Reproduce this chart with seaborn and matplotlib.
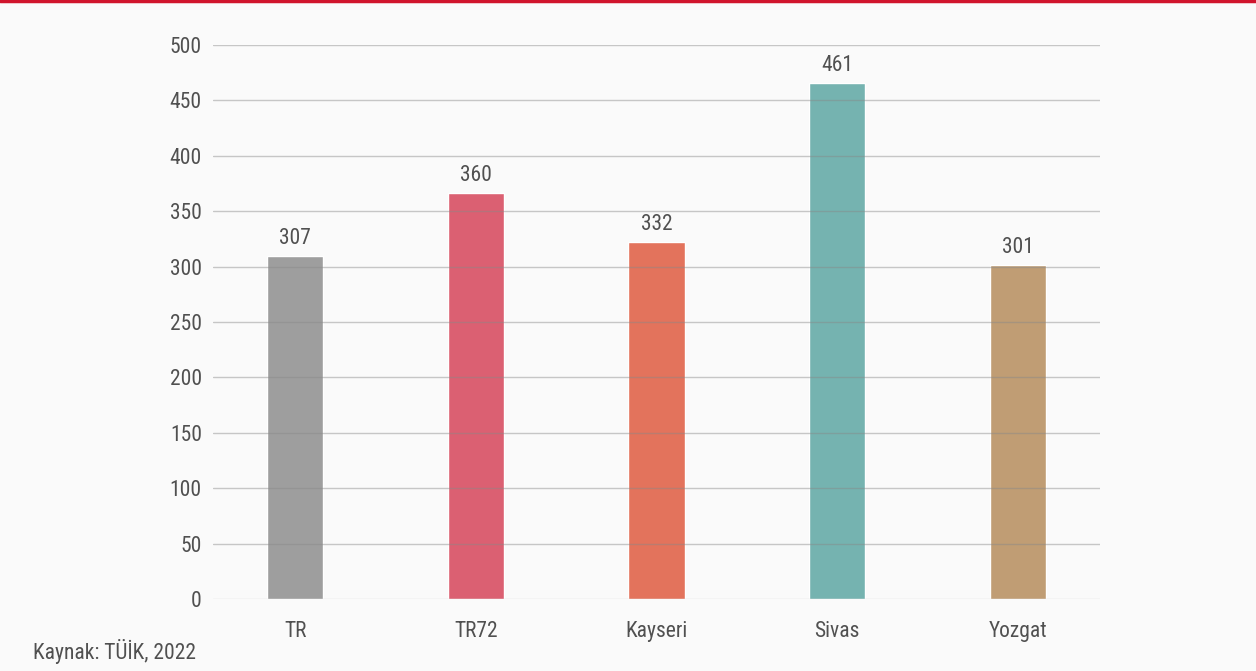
import matplotlib
matplotlib.use("Agg")
import matplotlib.pyplot as plt
import seaborn as sns
import pandas as pd

# veriler (çubuk yükseklikleri, etiketler ayrı)
bolgeler = ["TR", "TR72", "Kayseri", "Sivas", "Yozgat"]
degerler = [309.6, 366.4, 322.2, 465.7, 301.4]
etiketler = ["307", "360", "332", "461", "301"]
renkler = ["#9e9e9e", "#db6072", "#e3735c", "#75b3b0", "#c09d74"]

sns.set_style("white")
plt.rcParams["font.family"] = ["Roboto Condensed", "Roboto", "DejaVu Sans"]

df = pd.DataFrame({"bolge": bolgeler, "deger": degerler})

fig = plt.figure(figsize=(12.56, 6.71), dpi=100, facecolor="#fafafa")
ax = fig.add_axes([0.1696, 0.1073, 0.7062, 0.8257])
ax.set_facecolor("#fafafa")

sns.barplot(data=df, x="bolge", y="deger", hue="bolge", palette=renkler,
            width=0.31, legend=False, ax=ax, saturation=1)

ax.set_ylim(0, 500)
ax.set_xlim(-0.454, 4.454)
ax.set_yticks(range(0, 501, 50))
ax.set_axisbelow(False)
ax.yaxis.grid(True, color="#888888", linewidth=1, alpha=0.45)
ax.xaxis.grid(False)
ax.get_ygridlines()[0].set_alpha(0.25)
sns.despine(ax=ax, left=True, bottom=True)
ax.tick_params(axis="both", length=0, labelsize=15.5, colors="#505050")
ax.tick_params(axis="x", pad=16)
ax.tick_params(axis="y", pad=8)
ax.set_xlabel("")
ax.set_ylabel("")

for i, (v, e) in enumerate(zip(degerler, etiketler)):
    ax.annotate(e, (i, v), xytext=(0, 5), textcoords="offset points",
                ha="center", va="bottom", fontsize=15.5, color="#505050")

# üstteki kırmızı çizgi
fig.add_artist(plt.Line2D([0, 1], [0.998, 0.998], color="#d0142c",
                          linewidth=2.5, transform=fig.transFigure))

fig.text(33 / 1256, 1 - 651 / 671, "Kaynak: TÜİK, 2022", fontsize=15.5,
         color="#505050", ha="left", va="center")

fig.savefig("out.png", dpi=100, facecolor=fig.get_facecolor())
